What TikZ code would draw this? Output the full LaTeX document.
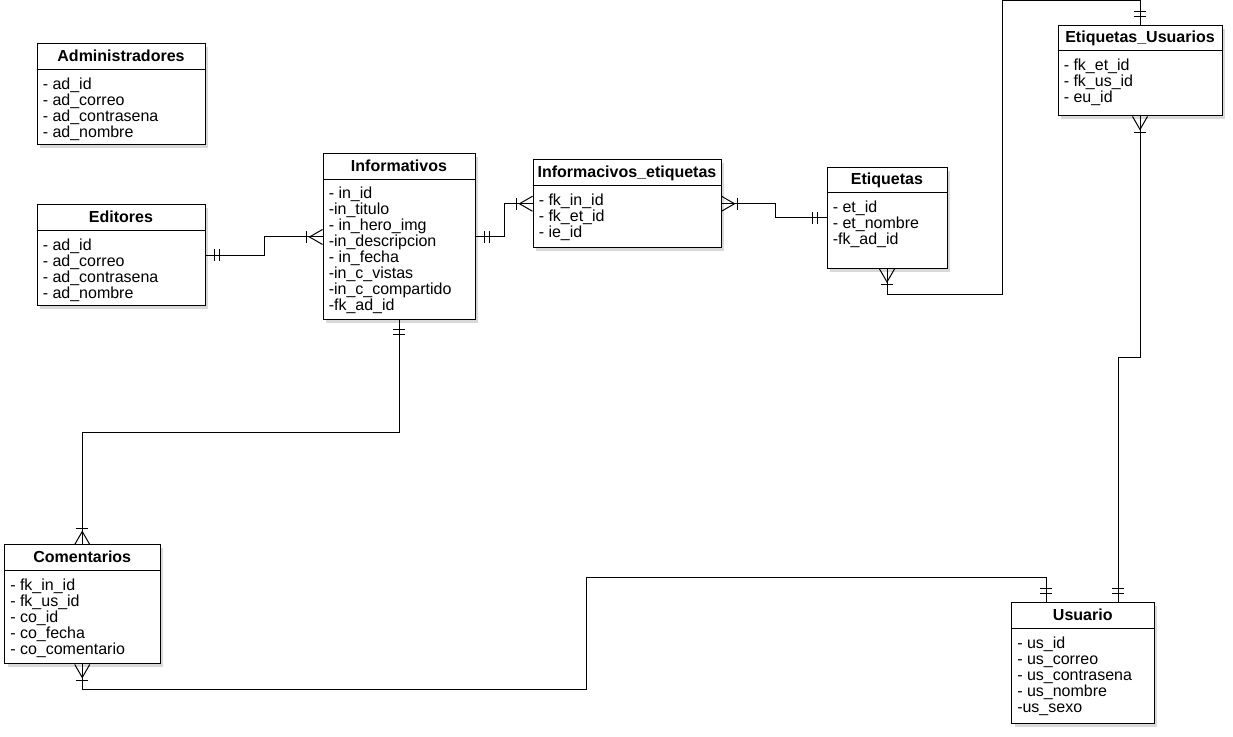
\documentclass[tikz,border=0pt]{standalone}
\usepackage{fontspec}
\setmainfont{Liberation Sans}
\usetikzlibrary{positioning}
\usetikzlibrary{calc, shadows}

\tikzset{
  tabla/.style 2 args={draw=black, line width=0.75pt, fill=white, inner sep=0pt,
    minimum width=#1*0.75pt, minimum height=#2*0.75pt,
    drop shadow={shadow xshift=2.5pt, shadow yshift=-2.5pt, opacity=0.3}},
  titulo/.style={font=\fontsize{12pt}{12pt}\selectfont\bfseries, anchor=base, inner sep=0pt},
  campos/.style={font=\fontsize{12pt}{12pt}\selectfont, align=left, anchor=north west, inner sep=0pt},
  rel/.style={line width=0.75pt},
  uno/.pic={\draw[rel] (9,-6) -- (9,6); \draw[rel] (14,-6) -- (14,6);},
  muchos/.pic={\draw[rel] (0,7.5) -- (13,0) -- (0,-7.5); \draw[rel] (16,-6) -- (16,6);},
}

\begin{document}
\begin{tikzpicture}[x=0.75pt, y=-0.75pt]
\useasboundingbox (0,0) rectangle (1233,737);

% tablas
\node[tabla={168}{101}] (admin) at (121,94.5) {};
\node[tabla={168}{101}] (editores) at (121,255.5) {};
\node[tabla={152}{166}] (informativos) at (399,237) {};
\node[tabla={188}{87.5}] (ie) at (627,203.75) {};
\node[tabla={120}{101}] (etiquetas) at (887,218) {};
\node[tabla={164}{90}] (eu) at (1140,71) {};
\node[tabla={155.5}{119}] (comentarios) at (82.25,604.5) {};
\node[tabla={142.5}{121}] (usuario) at (1082.75,663.5) {};

\foreach \t in {admin,editores,informativos,ie,etiquetas,comentarios,usuario}
  \draw[rel] ($(\t.north west)+(0,26)$) -- ($(\t.north east)+(0,26)$);
\draw[rel] ($(eu.north west)+(0,25)$) -- ($(eu.north east)+(0,25)$);

% titulos
\node[titulo] (adminT) at ($(admin.north)+(0,18)$) {Administradores};
\node[titulo] (editoresT) at ($(editores.north)+(0,18)$) {Editores};
\node[titulo] (informativosT) at ($(informativos.north)+(0,18)$) {Informativos};
\node[titulo] (ieT) at ($(ie.north)+(0,18)$) {Informacivos\_etiquetas};
\node[titulo] (etiquetasT) at ($(etiquetas.north)+(0,18)$) {Etiquetas};
\node[titulo] (euT) at ($(eu.north)+(0,17)$) {Etiquetas\_Usuarios};
\node[titulo] (comentariosT) at ($(comentarios.north)+(0,18)$) {Comentarios};
\node[titulo] (usuarioT) at ($(usuario.north)+(0,18)$) {Usuario};

% campos
\node[campos] (adminC) at ($(admin.north west)+(6,34)$)
  {- ad\_id\\- ad\_correo\\- ad\_contrasena\\- ad\_nombre};
\node[campos] (editoresC) at ($(editores.north west)+(6,34)$)
  {- ad\_id\\- ad\_correo\\- ad\_contrasena\\- ad\_nombre};
\node[campos] (informativosC) at ($(informativos.north west)+(6,33)$)
  {- in\_id\\-in\_titulo\\- in\_hero\_img\\-in\_descripcion\\- in\_fecha\\-in\_c\_vistas\\-in\_c\_compartido\\-fk\_ad\_id};
\node[campos] (ieC) at ($(ie.north west)+(6,34)$)
  {- fk\_in\_id\\- fk\_et\_id\\- ie\_id};
\node[campos] (etiquetasC) at ($(etiquetas.north west)+(6,34)$)
  {- et\_id\\- et\_nombre\\-fk\_ad\_id};
\node[campos] (euC) at ($(eu.north west)+(6,33)$)
  {- fk\_et\_id\\- fk\_us\_id\\- eu\_id};
\node[campos] (comentariosC) at ($(comentarios.north west)+(6,34)$)
  {- fk\_in\_id\\- fk\_us\_id\\- co\_id\\- co\_fecha\\- co\_comentario};
\node[campos] (usuarioC) at ($(usuario.north west)+(6,34)$)
  {- us\_id\\- us\_correo\\- us\_contrasena\\- us\_nombre\\-us\_sexo};

% relaciones
\coordinate (codoA) at (1002,1);
\coordinate (codoB) at (586,578);
\coordinate (usA) at ($(usuario.north west)+(35,0)$);
\coordinate (usB) at ($(usuario.north west)+(107,0)$);

\draw[rel] (editores.east) -- ++(59,0) |- (informativos.west);
\pic at (editores.east) {uno};
\pic[rotate=180] at (informativos.west) {muchos};

\draw[rel] (informativos.east) -- ++(29,0) |- (ie.west);
\pic at (informativos.east) {uno};
\pic[rotate=180] at (ie.west) {muchos};

\draw[rel] (ie.east) -- ++(54,0) |- (etiquetas.west);
\pic at (ie.east) {muchos};
\pic[rotate=180] at (etiquetas.west) {uno};

\draw[rel] (etiquetas.south) -- ++(0,26) -| (codoA) -| (eu.north);
\pic[rotate=-90] at (etiquetas.south) {muchos};
\pic[rotate=90] at (eu.north) {uno};

\draw[rel] (eu.south) -- ++(0,241) -| (usB);
\pic[rotate=-90] at (eu.south) {muchos};
\pic[rotate=90] at (usB) {uno};

\draw[rel] (informativos.south) -- ++(0,112) -| (comentarios.north);
\pic[rotate=-90] at (informativos.south) {uno};
\pic[rotate=90] at (comentarios.north) {muchos};

\draw[rel] (comentarios.south) -- ++(0,25) -| (codoB) -| (usA);
\pic[rotate=-90] at (comentarios.south) {muchos};
\pic[rotate=90] at (usA) {uno};

\end{tikzpicture}
\end{document}
